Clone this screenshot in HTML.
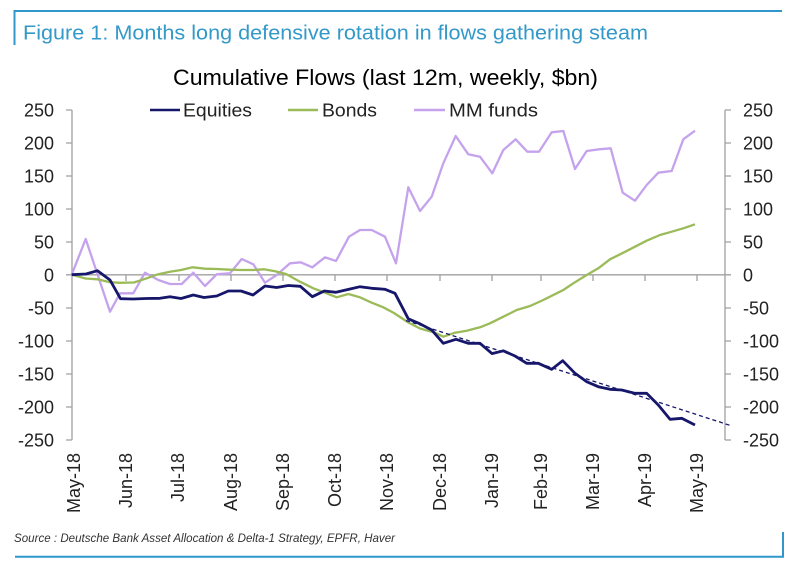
<!DOCTYPE html>
<html><head><meta charset="utf-8"><style>
html,body{margin:0;padding:0;background:#fff;}
svg{display:block;}
text{font-family:"Liberation Sans",Arial,sans-serif;}
</style></head><body>
<svg width="800" height="564" viewBox="0 0 800 564" xmlns="http://www.w3.org/2000/svg">
<rect width="800" height="564" fill="#fff"/>
<!-- header border -->
<path d="M14.5,45 V11 H782" fill="none" stroke="#2f97cc" stroke-width="2"/>
<text x="23" y="39.5" font-size="20.5" fill="#3399c9" textLength="625" lengthAdjust="spacingAndGlyphs">Figure 1: Months long defensive rotation in flows gathering steam</text>
<!-- chart title -->
<text x="173" y="85" font-size="22" fill="#000" textLength="425" lengthAdjust="spacingAndGlyphs">Cumulative Flows (last 12m, weekly, $bn)</text>
<!-- legend -->
<line x1="150" y1="110" x2="180" y2="110" stroke="#16166b" stroke-width="2.5"/>
<text x="183" y="116.5" font-size="18" fill="#222" textLength="69" lengthAdjust="spacingAndGlyphs">Equities</text>
<line x1="288" y1="110" x2="318" y2="110" stroke="#9bbb59" stroke-width="2.5"/>
<text x="322" y="116.5" font-size="18" fill="#222" textLength="55" lengthAdjust="spacingAndGlyphs">Bonds</text>
<line x1="414" y1="110" x2="445" y2="110" stroke="#c4a3ec" stroke-width="2.5"/>
<text x="449" y="116.5" font-size="18" fill="#222" textLength="89" lengthAdjust="spacingAndGlyphs">MM funds</text>
<!-- axes -->
<g stroke="#a0a0a0" stroke-width="1.3" fill="none">
<line x1="72" y1="110" x2="72" y2="440"/>
<line x1="725" y1="110" x2="725" y2="440"/>
<line x1="72" y1="274.8" x2="725" y2="274.8"/>
<path d="M66,110H72M66,143H72M66,176H72M66,209H72M66,242H72M66,274.8H72M66,308H72M66,341H72M66,374H72M66,407H72M66,440H72"/>
<path d="M725,110H731M725,143H731M725,176H731M725,209H731M725,242H731M725,274.8H731M725,308H731M725,341H731M725,374H731M725,407H731M725,440H731"/>
<path d="M126,274.8V281M179,274.8V281M231,274.8V281M283,274.8V281M335,274.8V281M387,274.8V281M440,274.8V281M492,274.8V281M541,274.8V281M593,274.8V281M645,274.8V281M697,274.8V281"/>
</g>
<!-- left labels -->
<g font-size="18" fill="#222" text-anchor="end">
<text x="54" y="116.5">250</text>
<text x="54" y="149.5">200</text>
<text x="54" y="182.5">150</text>
<text x="54" y="215.5">100</text>
<text x="54" y="248.5">50</text>
<text x="54" y="281.3">0</text>
<text x="54" y="314.5">-50</text>
<text x="54" y="347.5">-100</text>
<text x="54" y="380.5">-150</text>
<text x="54" y="413.5">-200</text>
<text x="54" y="446.5">-250</text>
</g>
<!-- right labels -->
<g font-size="18" fill="#222" text-anchor="start">
<text x="743" y="116.5">250</text>
<text x="743" y="149.5">200</text>
<text x="743" y="182.5">150</text>
<text x="743" y="215.5">100</text>
<text x="743" y="248.5">50</text>
<text x="743" y="281.3">0</text>
<text x="743" y="314.5">-50</text>
<text x="743" y="347.5">-100</text>
<text x="743" y="380.5">-150</text>
<text x="743" y="413.5">-200</text>
<text x="743" y="446.5">-250</text>
</g>
<!-- x labels -->
<g font-size="18" fill="#222" text-anchor="end">
<text transform="translate(80,453) rotate(-90)">May-18</text>
<text transform="translate(132,453) rotate(-90)">Jun-18</text>
<text transform="translate(184,453) rotate(-90)">Jul-18</text>
<text transform="translate(237,453) rotate(-90)">Aug-18</text>
<text transform="translate(289,453) rotate(-90)">Sep-18</text>
<text transform="translate(341,453) rotate(-90)">Oct-18</text>
<text transform="translate(393,453) rotate(-90)">Nov-18</text>
<text transform="translate(446,453) rotate(-90)">Dec-18</text>
<text transform="translate(498,453) rotate(-90)">Jan-19</text>
<text transform="translate(547,453) rotate(-90)">Feb-19</text>
<text transform="translate(599,453) rotate(-90)">Mar-19</text>
<text transform="translate(651,453) rotate(-90)">Apr-19</text>
<text transform="translate(703,453) rotate(-90)">May-19</text>
</g>
<!-- series -->
<polyline fill="none" stroke="#c4a3ec" stroke-width="2.3" stroke-linejoin="round" points="71.7,274.7 85.7,239 110,311.7 120,293.3 133.3,293.3 145,272.7 158.3,280 170,284 181.7,284 193.3,272.7 205,286 216.7,274.3 230,273.3 241.7,259 253.3,264.3 265,282.7 276.7,275 290,263.3 300.7,262.3 312.3,267.3 325,257.3 336,261 349,236.7 360,230 371.7,230 385,236.7 396,263.3 408.3,187.3 420,211 431.7,196.7 443.3,163.3 455.7,136 468.3,154.3 480,156.7 492.3,173.3 503.3,150 515.7,139.3 527.3,151.7 539,151.7 551.7,132.3 563.3,131 575,169 586.7,151 599,149.3 610.7,148.3 622.7,192.7 635,200.7 646.7,185 658.3,172.7 671.7,171 683.3,139.3 695,130.7"/>
<polyline fill="none" stroke="#9bbb59" stroke-width="2.3" stroke-linejoin="round" points="71.7,274.7 85.5,278.5 97.5,279.3 110,282.2 120,282.8 134,282.5 146.7,278.3 158.3,274.2 170,271.7 181,270 192.5,267.3 205,268.7 216.7,269 230,269.7 241.7,270 253.3,270 264,269.3 275,271.2 286,274 300,281.7 313.3,288.3 325,292.7 336.7,297.3 348.3,294 360,297.3 371.7,302.7 383.3,307.3 394,313 408.3,322.5 420,328.5 435,332.7 443.3,336.7 455,332.7 466.7,330.7 480,327.3 490,323.3 503.3,316.7 516.7,310 530,306 543.3,300 556.7,293.3 563.3,290 573.3,283.3 586.7,275 598.3,268.3 610,259.3 623.3,252.7 635,246.7 646.7,240.7 660,235 671.7,231.7 683.3,228.3 695,224.3"/>
<line x1="406" y1="320.5" x2="732" y2="426" stroke="#16166b" stroke-width="1.3" stroke-dasharray="4,3"/>
<polyline fill="none" stroke="#16166b" stroke-width="2.8" stroke-linejoin="round" points="71.7,274.7 86,274 97.5,270.7 110,280 120.5,298.7 133.3,299 146,298.5 160,298.3 170,296.7 181,298.5 193.3,295 204,297.5 216.7,296 228.3,291 241,291 253,295 265,286 276.7,287.5 288.3,285.5 300.3,286.3 312.3,296.7 324.3,291 336,292.3 349,289.3 360,286.7 371.7,288.3 385,289.3 395,293.3 408.3,318.8 420,323.8 431.7,330 443.3,343.3 456,339.3 468.3,343.3 480,343.3 492,353.6 503.3,350.8 515,356 526.7,363.3 538.3,363.3 551.7,369.3 562.7,360.7 575,373.3 586.7,381.7 598.3,386.7 610,389.3 621.7,390 635,393.3 646.7,393.3 658.3,405 670,419.3 681.7,418.3 695,425"/>
<!-- source -->
<text x="14" y="542" font-size="12" font-style="italic" fill="#333" textLength="381" lengthAdjust="spacingAndGlyphs">Source : Deutsche Bank Asset Allocation &amp; Delta-1 Strategy, EPFR, Haver</text>
<!-- footer border -->
<path d="M15,556.7 H783 V532" fill="none" stroke="#2f97cc" stroke-width="2"/>
</svg>
</body></html>
